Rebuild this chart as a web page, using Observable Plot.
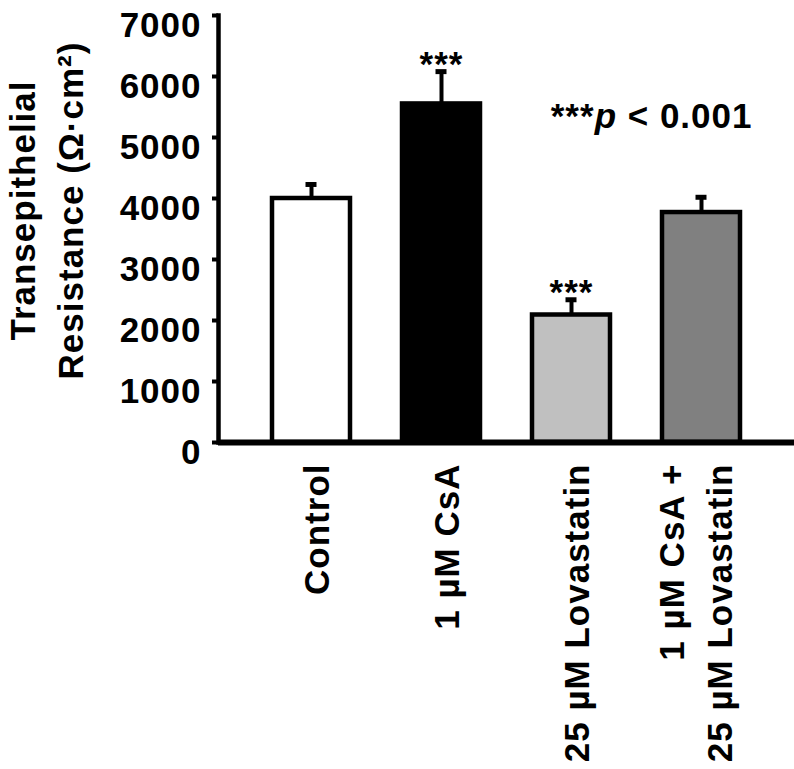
<!DOCTYPE html>
<html><head><meta charset="utf-8">
<script src="https://cdn.jsdelivr.net/npm/d3@7"></script>
<script src="https://cdn.jsdelivr.net/npm/@observablehq/plot@0.6"></script>
<style>body{margin:0;background:#fff} svg text{letter-spacing:1px}</style>
</head><body><div id="chart"></div>
<script>
const categories = ["Control", "1 µM CsA", "25 µM Lovastatin", "1 µM CsA + 25 µM Lovastatin"];
const tickLabels = ["Control", "1 µM CsA", "25 µM Lovastatin", "1 µM CsA +\n25 µM Lovastatin"];
const means = [4000, 5550, 2090, 3770];
const upper = [4230, 6080, 2340, 4020];
const stars = ["", "***", "***", ""];
const fills = ["#ffffff", "#000000", "#c0c0c0", "#808080"];
const yTicks = [0, 1000, 2000, 3000, 4000, 5000, 6000, 7000];
const yTitle = "Transepithelial\nResistance (Ω·cm²)";
const note = "***p < 0.001";

const data = categories.map((c, i) => ({cat: c, label: tickLabels[i], mean: means[i], upper: upper[i], star: stars[i], fill: fills[i]}));

const chart = Plot.plot({
  width: 794, height: 769,
  marginLeft: 218, marginRight: 0, marginTop: 15, marginBottom: 327,
  style: {fontFamily: "'Liberation Sans', Arial, Helvetica, sans-serif", fontWeight: "bold", background: "#fff", color: "#000"},
  x: {type: "band", domain: categories, paddingInner: 0.4, paddingOuter: 0.415, axis: null},
  y: {domain: [0, 7000]},
  color: {type: "identity"},
  marks: [
    Plot.ruleX(data, {x: "cat", y1: "mean", y2: "upper", strokeWidth: 4}),
    Plot.tickY(data, {x: "cat", y: "upper", strokeWidth: 5, insetLeft: 33.5, insetRight: 33.5}),
    Plot.barY(data, {x: "cat", y: "mean", fill: "fill", stroke: "black", strokeWidth: 4.5}),
    Plot.text(data, {x: "cat", y: "upper", text: "star", lineAnchor: "bottom", dy: 4, fontSize: 35}),
    Plot.ruleY([0], {strokeWidth: 6}),
    Plot.frame({anchor: "left", strokeWidth: 4.5}),
    Plot.axisY({ticks: yTicks, tickSize: 6, strokeWidth: 4, fill: "none", label: null}),
    Plot.axisY({ticks: yTicks, tickSize: 6, tickPadding: 11, stroke: "none", dy: 10, fontSize: 35, label: null, tickFormat: d => String(d)}),
    Plot.text(data, {filter: d => !d.label.includes("\n"), x: "cat", text: "label", frameAnchor: "bottom", rotate: -90, textAnchor: "end", lineAnchor: "middle", dx: 2, dy: 21, fontSize: 35, lineHeight: 1.37}),
    Plot.text(data, {filter: d => d.label.includes("\n"), x: "cat", text: "label", frameAnchor: "bottom", rotate: -90, textAnchor: "end", lineAnchor: "middle", dx: -9, dy: 21, fontSize: 35, lineHeight: 1.37}),
    Plot.text([yTitle], {frameAnchor: "left", rotate: -90, textAnchor: "middle", lineAnchor: "middle", dx: -175, dy: -18.5, fontSize: 35, lineHeight: 1.38}),
    Plot.text([note], {frameAnchor: "top-right", textAnchor: "end", lineAnchor: "bottom", dx: -42, dy: 112, fontSize: 35})
  ]
});
document.getElementById("chart").appendChild(chart);

d3.select(chart).selectAll("text").filter(function() { return this.textContent === note; }).each(function() {
  const t = d3.select(this);
  t.text(null);
  t.append("tspan").text("***");
  t.append("tspan").attr("font-style", "italic").style("font-style", "italic").text("p");
  t.append("tspan").text(" < 0.001");
});
</script>
</body></html>
